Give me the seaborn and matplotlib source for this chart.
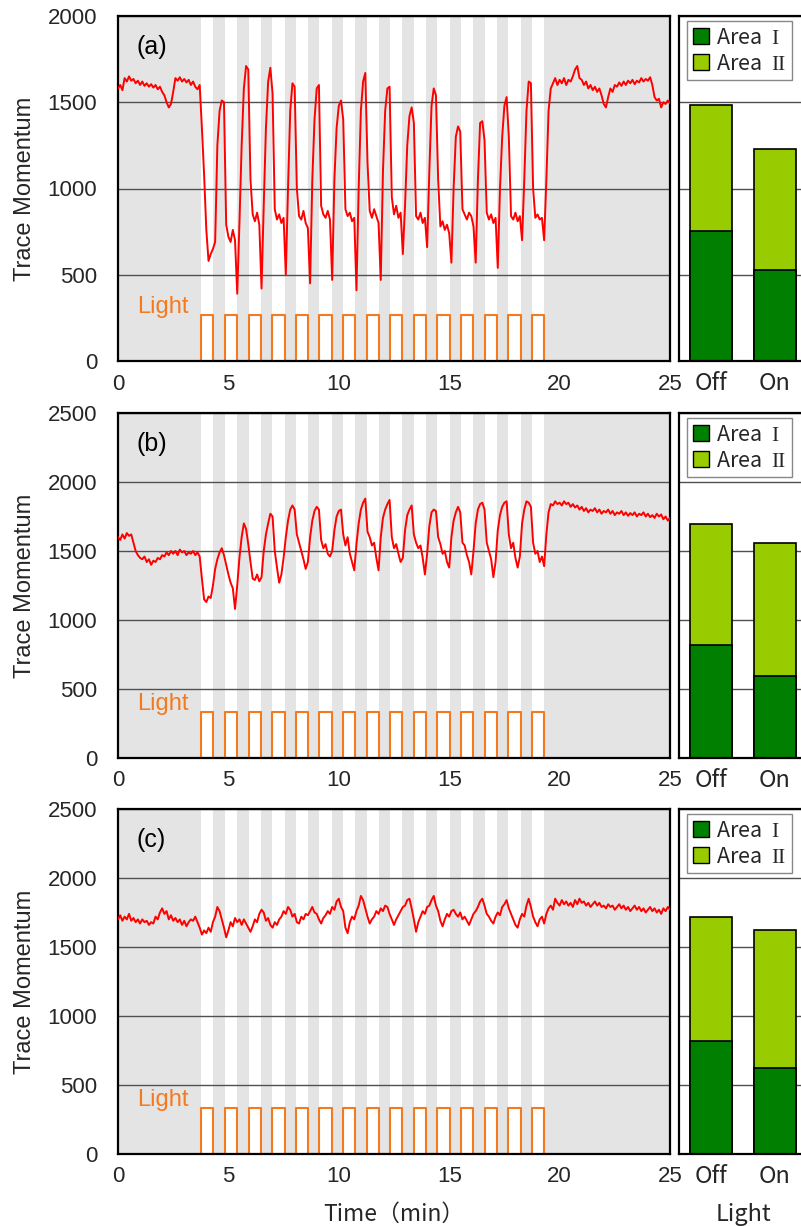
import numpy as np
import pandas as pd
import matplotlib
matplotlib.use("Agg")
import matplotlib.pyplot as plt
import seaborn as sns
from matplotlib.patches import Patch
from matplotlib.ticker import FixedLocator

# ---------------- data ----------------
time_min = np.round(np.arange(251) * 0.1, 1)   # sample times, 0.1 min step

trace_a = [
    1580, 1600, 1570, 1640, 1620, 1650, 1625, 1635, 1610, 1625,
    1600, 1620, 1595, 1610, 1590, 1605, 1585, 1600, 1575, 1590,
    1560, 1540, 1500, 1470, 1490, 1560, 1640, 1625, 1645, 1620,
    1635, 1615, 1630, 1600, 1620, 1590, 1575, 1600, 1350, 1080,
    760, 580, 620, 650, 690, 1250, 1450, 1510, 1500, 790,
    720, 690, 760, 700, 390, 800, 1250, 1580, 1710, 1690,
    1050, 850, 810, 860, 790, 420, 900, 1350, 1620, 1700,
    1550, 880, 820, 850, 800, 830, 500, 1000, 1450, 1610,
    1590, 1000, 840, 820, 870, 800, 770, 450, 1050, 1400,
    1580, 1600, 900, 850, 830, 870, 820, 470, 1050, 1350,
    1480, 1510, 1400, 880, 840, 860, 810, 830, 410, 1000,
    1450, 1620, 1670, 1150, 870, 830, 880, 840, 800, 470,
    1100, 1450, 1580, 1590, 950, 850, 900, 830, 860, 620,
    900, 1250, 1420, 1470, 1380, 840, 820, 860, 800, 830,
    660, 1100, 1480, 1580, 1540, 1050, 780, 810, 760, 790,
    740, 570, 1000, 1300, 1360, 1330, 880, 850, 820, 860,
    840, 780, 570, 1050, 1380, 1390, 1280, 860, 820, 850,
    800, 830, 540, 1000, 1300, 1480, 1530, 1300, 840, 820,
    860, 810, 840, 700, 1050, 1450, 1620, 1610, 1000, 830,
    850, 820, 830, 700, 1050, 1450, 1580, 1610, 1640, 1600,
    1630, 1610, 1640, 1600, 1630, 1620, 1650, 1690, 1710, 1640,
    1630, 1600, 1620, 1580, 1600, 1570, 1590, 1560, 1580, 1540,
    1490, 1470, 1530, 1580, 1560, 1600, 1590, 1615, 1595, 1620,
    1600, 1625, 1610, 1630, 1605, 1625, 1615, 1640, 1620, 1635,
    1625, 1645, 1600, 1530, 1510, 1520, 1470, 1500, 1490, 1510,
    1495,
]

trace_b = [
    1600, 1580, 1620, 1590, 1630, 1610, 1620, 1560, 1500, 1470,
    1450, 1440, 1460, 1420, 1440, 1400, 1430, 1420, 1450, 1440,
    1470, 1460, 1490, 1470, 1500, 1480, 1500, 1470, 1510, 1490,
    1500, 1470, 1490, 1480, 1500, 1470, 1490, 1460, 1300, 1150,
    1130, 1170, 1160, 1250, 1370, 1440, 1490, 1520, 1470, 1400,
    1330, 1270, 1230, 1080, 1250, 1450, 1600, 1700, 1660, 1550,
    1420, 1300, 1290, 1330, 1280, 1310, 1500, 1620, 1700, 1770,
    1750, 1500, 1380, 1270, 1330, 1450, 1600, 1720, 1800, 1830,
    1800, 1620, 1560, 1500, 1440, 1370, 1420, 1600, 1720, 1790,
    1820, 1800, 1580, 1520, 1550, 1480, 1460, 1500, 1650, 1750,
    1790, 1800, 1620, 1540, 1600, 1480, 1420, 1360, 1550, 1700,
    1800, 1850, 1880, 1640, 1600, 1540, 1560, 1450, 1360, 1600,
    1740, 1800, 1840, 1870, 1600, 1520, 1550, 1480, 1420, 1450,
    1650, 1760, 1800, 1830, 1620, 1560, 1520, 1540, 1450, 1330,
    1480, 1680, 1780, 1800, 1790, 1600, 1550, 1480, 1500, 1420,
    1380, 1600, 1720, 1780, 1820, 1780, 1560, 1540, 1470, 1420,
    1330, 1500, 1700, 1800, 1840, 1850, 1800, 1560, 1500, 1440,
    1310, 1420, 1650, 1760, 1820, 1850, 1860, 1620, 1520, 1560,
    1450, 1380, 1460, 1700, 1800, 1860, 1850, 1820, 1560, 1480,
    1500, 1420, 1460, 1390, 1620, 1780, 1840, 1830, 1860, 1840,
    1850, 1830, 1860, 1840, 1850, 1820, 1840, 1815, 1830, 1800,
    1820, 1790, 1810, 1780, 1800, 1790, 1810, 1780, 1800, 1770,
    1790, 1780, 1800, 1770, 1790, 1760, 1780, 1770, 1790, 1760,
    1780, 1755, 1775, 1760, 1780, 1750, 1770, 1760, 1780, 1750,
    1770, 1745, 1760, 1740, 1770, 1750, 1765, 1730, 1750, 1720,
    1740,
]

trace_c = [
    1700, 1730, 1690, 1720, 1700, 1740, 1690, 1710, 1680, 1700,
    1670, 1700, 1680, 1690, 1660, 1680, 1670, 1720, 1700, 1750,
    1780, 1740, 1760, 1700, 1730, 1690, 1710, 1680, 1700, 1660,
    1690, 1650, 1680, 1700, 1690, 1720, 1680, 1640, 1590, 1620,
    1600, 1640, 1610, 1680, 1720, 1790, 1760, 1700, 1640, 1570,
    1620, 1680, 1650, 1710, 1680, 1700, 1660, 1700, 1670, 1640,
    1610, 1650, 1700, 1680, 1740, 1770, 1750, 1690, 1710, 1660,
    1640, 1680, 1660, 1700, 1720, 1760, 1740, 1790, 1770, 1720,
    1740, 1680, 1670, 1720, 1700, 1740, 1730, 1760, 1790, 1750,
    1740, 1700, 1670, 1710, 1730, 1760, 1740, 1790, 1770, 1830,
    1850, 1790, 1760, 1640, 1600, 1680, 1720, 1700, 1760, 1800,
    1870, 1840, 1780, 1720, 1670, 1700, 1720, 1760, 1740, 1780,
    1760, 1800, 1790, 1740, 1700, 1660, 1700, 1730, 1760, 1790,
    1800, 1840, 1850, 1780, 1700, 1610, 1680, 1720, 1760, 1740,
    1790, 1800, 1840, 1870, 1800, 1760, 1690, 1650, 1700, 1740,
    1720, 1760, 1770, 1740, 1720, 1750, 1700, 1720, 1690, 1660,
    1700, 1740, 1760, 1790, 1830, 1850, 1800, 1740, 1720, 1690,
    1670, 1720, 1750, 1730, 1790, 1810, 1840, 1780, 1740, 1700,
    1660, 1640, 1700, 1740, 1720, 1800, 1850, 1790, 1720, 1680,
    1650, 1700, 1720, 1670, 1740, 1780, 1800, 1770, 1850, 1820,
    1800, 1840, 1810, 1830, 1800, 1820, 1790, 1840, 1810, 1850,
    1820, 1830, 1800, 1820, 1790, 1810, 1830, 1800, 1820, 1790,
    1800, 1780, 1810, 1790, 1800, 1770, 1790, 1810, 1780, 1800,
    1770, 1790, 1760, 1780, 1800, 1770, 1790, 1760, 1780, 1750,
    1770, 1790, 1760, 1780, 1750, 1770, 1740, 1780, 1760, 1790,
    1770,
]

light_on_start = [3.76, 4.85, 5.92, 6.99, 8.05, 9.12, 10.19, 11.26,
                  12.32, 13.39, 14.46, 15.53, 16.61, 17.68, 18.75]
light_on_duration = 0.56
light_level = [267, 333, 333]
y_max = [2000, 2500, 2500]
panel_labels = ["(a)", "(b)", "(c)"]

bar_categories = ["Off", "On"]
legend_labels = [r"Area  $\mathrm{I}$", r"Area  $\mathrm{II}$"]
area1_a = [754, 528]
area2_a = [730, 701]
area1_b = [819, 594]
area2_b = [877, 964]
area1_c = [819, 623]
area2_c = [898, 1000]

traces = [trace_a, trace_b, trace_c]
areas1 = [area1_a, area1_b, area1_c]
areas2 = [area2_a, area2_b, area2_c]
for tr in traces:
    assert len(tr) == len(time_min)

# ---------------- style ----------------
sns.set_theme(style="white")
plt.rcParams["font.family"] = ["Liberation Sans", "DejaVu Sans"]
plt.rcParams["mathtext.fontset"] = "custom"
plt.rcParams["mathtext.rm"] = "Liberation Serif"
JP = ["Noto Sans CJK JP", "DejaVu Sans"]

BG = "#e4e4e4"
GRID = "#505050"
RED = "#ff0000"
ORANGE = "#f47a20"
DARK_GREEN = "#007f00"
LIGHT_GREEN = "#99cc00"

W, H = 801, 1226
fig = plt.figure(figsize=(W / 100, H / 100), dpi=100)

left_px, right_px = 118, 670
bar_left_px, bar_right_px = 679, 807
rows_px = [(16, 361), (413, 758), (809, 1154)]

for i, (top, bot) in enumerate(rows_px):
    b = 1 - bot / H
    h = (bot - top) / H
    ax = fig.add_axes([left_px / W, b, (right_px - left_px) / W, h])
    axb = fig.add_axes([bar_left_px / W, b, (bar_right_px - bar_left_px) / W, h])
    ymax = y_max[i]

    # ---- line panel ----
    ax.set_facecolor(BG)
    for s in light_on_start:
        ax.axvspan(s, s + light_on_duration, color="white", lw=0, zorder=1)
    df = pd.DataFrame({"Time": time_min, "Trace": traces[i]})
    sns.lineplot(data=df, x="Time", y="Trace", ax=ax, color=RED, lw=1.4,
                 estimator=None, sort=False, zorder=3)
    # light pulses
    px, py = [], []
    for s in light_on_start:
        px += [s, s, s + light_on_duration, s + light_on_duration]
        py += [0, light_level[i], light_level[i], 0]
    ax.plot(px, py, color=ORANGE, lw=1.5, zorder=2.5)
    ax.text(0.85, light_level[i] * 1.04, "Light", color=ORANGE, fontsize=17,
            va="baseline", ha="left", zorder=4)
    ax.text(0.034, 0.91, panel_labels[i], transform=ax.transAxes, fontsize=18,
            va="center", ha="left", color="black", zorder=4)

    ax.set_xlim(0, 25)
    ax.set_ylim(0, ymax)
    ax.set_xticks([0, 5, 10, 15, 20, 25])
    ax.set_yticks(np.arange(0, ymax + 1, 500))
    ax.yaxis.grid(True, color=GRID, lw=1.0)
    ax.xaxis.grid(False)
    ax.set_axisbelow("line")
    ax.tick_params(axis="x", direction="in", length=6, width=1, color="#888888",
                   labelsize=16, pad=9)
    ax.tick_params(axis="y", length=0, labelsize=16, pad=15)
    ax.set_ylabel("Trace Momentum", fontsize=17, labelpad=8)
    if i == 2:
        ax.set_xlabel("Time（min）", fontsize=16.5, family=JP, labelpad=11)
    else:
        ax.set_xlabel("")
    for sp in ax.spines.values():
        sp.set_color("black")
        sp.set_linewidth(1.6)

    # ---- stacked bar panel ----
    tot = [a + c for a, c in zip(areas1[i], areas2[i])]
    bdf = pd.DataFrame({"Light": bar_categories, "Total": tot, "Area1": areas1[i]})
    sns.barplot(data=bdf, x="Light", y="Total", ax=axb, color=LIGHT_GREEN,
                saturation=1, width=0.66, edgecolor="black", linewidth=1.2,
                order=bar_categories)
    sns.barplot(data=bdf, x="Light", y="Area1", ax=axb, color=DARK_GREEN,
                saturation=1, width=0.66, edgecolor="black", linewidth=1.2,
                order=bar_categories)
    axb.set_facecolor("white")
    axb.set_xlim(-0.5, 1.5)
    axb.set_ylim(0, ymax)
    axb.set_yticks(np.arange(0, ymax + 1, 500))
    axb.set_yticklabels([])
    axb.yaxis.grid(True, color=GRID, lw=1.0)
    axb.set_axisbelow(True)
    axb.tick_params(axis="y", length=0)
    axb.tick_params(axis="x", length=0, labelsize=17, pad=8)
    for lab in axb.get_xticklabels():
        lab.set_fontfamily(JP)
    axb.xaxis.set_minor_locator(FixedLocator([0.5]))
    axb.tick_params(axis="x", which="minor", direction="in", length=6,
                    width=1, color="#888888")
    axb.set_ylabel("")
    if i == 2:
        axb.set_xlabel("Light", fontsize=17, family=JP, labelpad=11)
    else:
        axb.set_xlabel("")
    for sp in axb.spines.values():
        sp.set_color("black")
        sp.set_linewidth(1.6)
    handles = [Patch(facecolor=DARK_GREEN, edgecolor="black", lw=1),
               Patch(facecolor=LIGHT_GREEN, edgecolor="black", lw=1)]
    leg = axb.legend(handles, legend_labels, loc="upper left",
                     bbox_to_anchor=(0.065, 0.985), frameon=True, fancybox=False,
                     framealpha=1, edgecolor="#888888", borderpad=0.25,
                     handlelength=0.75, handleheight=0.75, handletextpad=0.35,
                     labelspacing=0.2, borderaxespad=0,
                     prop={"family": JP, "size": 15.5})
    leg.get_frame().set_linewidth(1.0)

fig.savefig("out.png", dpi=100)
